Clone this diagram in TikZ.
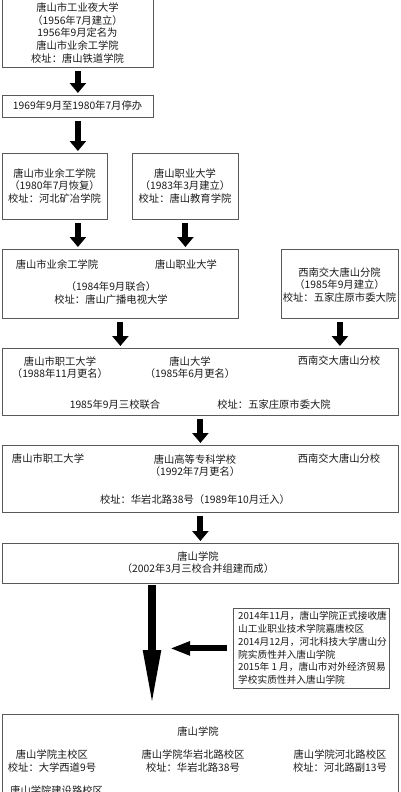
\documentclass[tikz,border=0pt]{standalone}
\usepackage{fontspec}
\setmainfont{Noto Sans CJK SC}
\usetikzlibrary{arrows.meta}
\tikzset{
  box/.style={draw=black!65, line width=0.8pt, anchor=north west, inner sep=0pt},
  txt/.style={align=center, font=\fontsize{10.3}{12.6}\selectfont, text=black!90, inner sep=0pt},
  fat/.style={line width=6pt, -{Triangle[width=16pt,length=10pt]}, shorten <=3pt, shorten >=2pt},
  longarrow/.style={line width=8pt, -{Triangle[width=16pt,length=58pt]}, shorten <=1pt, shorten >=6pt},
  sidearrow/.style={line width=6pt, -{Triangle[width=13pt,length=20pt]}, shorten <=6pt}
}
\begin{document}
\begin{tikzpicture}[x=1pt,y=-1pt]
\useasboundingbox (0,0) rectangle (400,792);
% boxes
\node[box, minimum width=151pt, minimum height=69pt] (b1) at (2,-2) {};
\node[box, minimum width=151pt, minimum height=22pt] (b2) at (2,95) {};
\node[box, minimum width=105pt, minimum height=66pt] (b3) at (2,153) {};
\node[box, minimum width=106pt, minimum height=66pt] (b4) at (132,153) {};
\node[box, minimum width=236pt, minimum height=69pt] (b5) at (2,249) {};
\node[box, minimum width=117pt, minimum height=69pt] (b6) at (281,249) {};
\node[box, minimum width=396pt, minimum height=67pt] (b7) at (2,348) {};
\node[box, minimum width=396pt, minimum height=67pt] (b8) at (2,445) {};
\node[box, minimum width=396pt, minimum height=40pt] (b9) at (2,543) {};
\node[box, minimum width=156pt, minimum height=80pt] (b10) at (233,608) {};
\node[box, minimum width=396pt, minimum height=90pt] (b11) at (2,714) {};
% texts
\node[txt] (t1) at (77.5,33) {唐山市工业夜大学\\（1956年7月建立）\\1956年9月定名为\\唐山市业余工学院\\校址：唐山铁道学院};
\node[txt] (t2) at (77.5,106) {1969年9月至1980年7月停办};
\node[txt] (t3) at (54.5,186) {唐山市业余工学院\\（1980年7月恢复）\\校址：河北矿冶学院};
\node[txt] (t4) at (185,186) {唐山职业大学\\（1983年3月建立）\\校址：唐山教育学院};
\node[txt] (t5a) at (57,265) {唐山市业余工学院};
\node[txt] (t5b) at (186,265) {唐山职业大学};
\node[txt] (t5c) at (111,293) {（1984年9月联合）\\校址：唐山广播电视大学};
\node[txt] (t6) at (339.5,285) {西南交大唐山分院\\（1985年9月建立）\\校址：五家庄原市委大院};
\node[txt] (t7a) at (60,367.5) {唐山市职工大学\\（1988年11月更名）};
\node[txt] (t7b) at (190,367.5) {唐山大学\\（1985年6月更名）};
\node[txt] (t7c) at (339,361) {西南交大唐山分校};
\node[txt] (t7d) at (115,405) {1985年9月三校联合};
\node[txt] (t7e) at (274,405) {校址：五家庄原市委大院};
\node[txt] (t8a) at (48,459) {唐山市职工大学};
\node[txt] (t8b) at (195,465.5) {唐山高等专科学校\\（1992年7月更名）};
\node[txt] (t8c) at (339,459) {西南交大唐山分校};
\node[txt] (t8d) at (195,500) {校址：华岩北路38号（1989年10月迁入）};
\node[txt] (t9) at (198,562.5) {唐山学院\\（2002年3月三校合并组建而成）};
\node[txt, align=left, anchor=west, font=\fontsize{9.7}{12.8}\selectfont] (t10) at (238,648) {2014年11月，唐山学院正式接收唐\\山工业职业技术学院嘉唐校区\\2014月12月，河北科技大学唐山分\\院实质性并入唐山学院\\2015年 1 月，唐山市对外经济贸易\\学校实质性并入唐山学院};
\node[txt] (t11a) at (198,732) {唐山学院};
\node[txt] (t11b) at (52,761) {唐山学院主校区\\校址：大学西道9号};
\node[txt] (t11c) at (193,761) {唐山学院华岩北路校区\\校址：华岩北路38号};
\node[txt] (t11d) at (340,761) {唐山学院河北路校区\\校址：河北路副13号};
\node[txt, anchor=north west] (t11e) at (10,786) {唐山学院建设路校区};
% arrows
\coordinate (lx) at (152,0);
\coordinate (lt) at (170,648);
\draw[fat] (b1.south) -- (b2.north);
\draw[fat] (b2.south) -- (b2.south |- b3.north);
\draw[fat] (b2.south |- b3.south) -- (b2.south |- b5.north);
\draw[fat] (b4.south) -- (b4.south |- b5.north);
\draw[fat] (b5.south) -- (b5.south |- b7.north);
\draw[fat] (b6.south) -- (b6.south |- b7.north);
\draw[fat] (b7.south) -- (b8.north);
\draw[fat] (b8.south) -- (b9.north);
\draw[longarrow] (b9.south -| lx) -- (b11.north -| lx);
\draw[sidearrow] (b10.west) -- (b10.west -| lt);
\end{tikzpicture}
\end{document}
